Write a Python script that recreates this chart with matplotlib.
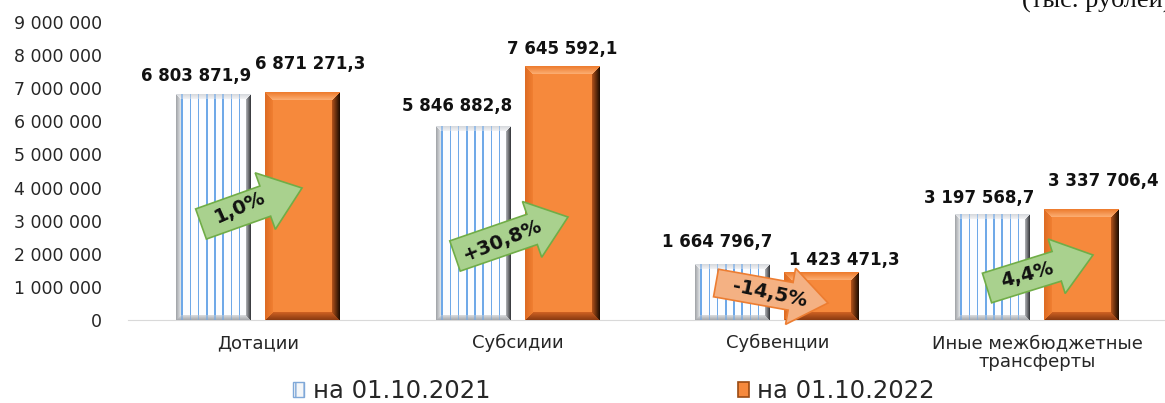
import matplotlib
matplotlib.use('Agg')
import matplotlib.pyplot as plt
import numpy as np
from matplotlib.patches import Polygon, Patch
from matplotlib.ticker import FuncFormatter, MultipleLocator

# ---------------- data ----------------
categories = ['Дотации', 'Субсидии', 'Субвенции', 'Иные межбюджетные\nтрансферты']
values_2021 = [6803871.9, 5846882.8, 1664796.7, 3197568.7]
values_2022 = [6871271.3, 7645592.1, 1423471.3, 3337706.4]
series_names = ['на 01.10.2021', 'на 01.10.2022']
change_labels = ['1,0%', '+30,8%', '-14,5%', '4,4%']
unit_label = '(тыс. рублей)'

# ---------------- layout / style ----------------
W, H = 1165, 403
fig = plt.figure(figsize=(W / 100, H / 100), dpi=100)
ax = fig.add_axes([128 / W, (H - 320) / H, 1039 / W, 298 / H])
ax.set_xlim(-0.5, 3.5)
ax.set_ylim(0, 9e6)

x = np.arange(len(categories))
bw = 75 / 259.75
off = 44.5 / 259.75
b1 = ax.bar(x - off, values_2021, bw, color='none', edgecolor='none')
b2 = ax.bar(x + off, values_2022, bw, color='none', edgecolor='none')


def bevel_image(w, h, face, edges, b, lines=None):
    yy, xx = np.mgrid[0:h, 0:w]
    d = np.stack([yy, xx, w - 1 - xx, h - 1 - yy]).astype(float)
    idx = d.argmin(0)
    m = d.min(0)
    img = np.ones((h, w, 3)) * np.array(face, float) / 255
    if lines is not None:
        col, spacing, lw = lines
        mask = ((xx - b) % spacing < lw) & ~(((idx == 1) | (idx == 2)) & (m < b))
        mask &= (xx > b - 1) & (xx < w - b)
        img[mask] = np.array(col, float) / 255
    for k in range(4):
        outer, inner = edges[k]
        sel = (idx == k) & (m < b)
        t = (m[sel] / b)[:, None]
        c = np.array(outer, float) / 255 * (1 - t) + np.array(inner, float) / 255 * t
        if lines is not None and k in (0, 3):
            keep = mask[sel]
            c[keep] = c[keep] * 0.4 + np.array(lines[0], float) / 255 * 0.6
        img[sel] = c
    return np.clip(img, 0, 1)


blue_edges = [((215, 218, 222), (245, 246, 248)),   # top
              ((165, 168, 172), (236, 238, 240)),   # left
              ((60, 62, 66), (190, 192, 196)),      # right
              ((170, 172, 176), (225, 227, 230))]   # bottom
orange_edges = [((238, 125, 48), (253, 178, 120)),
                ((222, 108, 36), (242, 128, 50)),
                ((35, 15, 2), (190, 88, 28)),
                ((140, 60, 18), (212, 100, 36))]

for bars, edges, face, lines, bev in [
        (b1, blue_edges, (252, 253, 255), ((110, 168, 232), 8.2, 1.6), 5),
        (b2, orange_edges, (246, 137, 60), None, 8)]:
    for p in bars:
        bb = p.get_bbox()
        (px0, py0), (px1, py1) = ax.transData.transform([[bb.x0, bb.y0], [bb.x1, bb.y1]])
        w = int(round(px1 - px0))
        h = int(round(py1 - py0))
        img = bevel_image(w, h, face, edges, bev, lines)
        ax.imshow(img, extent=(bb.x0, bb.x1, bb.y0, bb.y1), aspect='auto',
                  interpolation='nearest', zorder=2)

ax.set_xlim(-0.5, 3.5)
ax.set_ylim(0, 9e6)


def fmt_val(v):
    return f"{v:,.1f}".replace(',', ' ').replace('.', ',')


off_2021 = [(-17, 19), (-16, 20), (-16, 23), (-13, 16)]
off_2022 = [(8, 28), (0, 18), (22, 13), (22, 28)]
for i in range(len(categories)):
    ax.annotate(fmt_val(values_2021[i]), xy=(x[i] - off, values_2021[i]),
                xytext=off_2021[i], textcoords='offset pixels', ha='center', va='center',
                fontsize=12, fontweight='bold', color='#111111', zorder=4)
    ax.annotate(fmt_val(values_2022[i]), xy=(x[i] + off, values_2022[i]),
                xytext=off_2022[i], textcoords='offset pixels', ha='center', va='center',
                fontsize=12, fontweight='bold', color='#111111', zorder=4)

ax.yaxis.set_major_locator(MultipleLocator(1e6))
ax.yaxis.set_major_formatter(FuncFormatter(lambda v, p: f"{int(v):,}".replace(',', ' ')))
ax.tick_params(axis='y', length=0, pad=18.5, labelsize=12.5, labelcolor='#262626')
ax.set_xticks(x, categories)
ax.tick_params(axis='x', length=0, pad=10, labelsize=13, labelcolor='#262626')
for lab in ax.get_xticklabels():
    lab.set_linespacing(1.1)
for s in ['top', 'right', 'left']:
    ax.spines[s].set_visible(False)
ax.spines['bottom'].set_color('#d9d9d9')
ax.spines['bottom'].set_zorder(1)
ax.patch.set_alpha(0)

# ---------------- arrows overlay ----------------
ov = fig.add_axes([0, 0, 1, 1], zorder=5)
ov.set_xlim(0, W)
ov.set_ylim(H, 0)
ov.axis('off')
ov.patch.set_alpha(0)


def arrow_pts(x0, y0, x1, y1, sw, hw, hl):
    p0 = np.array([x0, y0], float)
    p1 = np.array([x1, y1], float)
    d = p1 - p0
    L = np.hypot(*d)
    u = d / L
    n = np.array([-u[1], u[0]])
    base = p0 + u * (L - hl)
    return [p0 + n * sw / 2, base + n * sw / 2, base + n * hw / 2, p1,
            base - n * hw / 2, base - n * sw / 2, p0 - n * sw / 2]


arrow_geom = [((201, 224), (302, 188), 32, 60, 39),
              ((455, 256), (568, 217), 32, 59, 38),
              ((716, 283), (828, 303), 28, 57, 38),
              ((987, 288), (1093, 255), 31, 57, 38)]
arrow_text = [((240, 207), 24), ((503, 240), 22), ((770, 294), -12), ((1027, 275), 15)]
for i, ((p0, p1, sw, hw, hl), (tp, rot)) in enumerate(zip(arrow_geom, arrow_text)):
    down = change_labels[i].startswith('-')
    fc = '#F4B183' if down else '#A9D18E'
    ec = '#ED7D31' if down else '#70AD47'
    ov.add_patch(Polygon(arrow_pts(*p0, *p1, sw, hw, hl), closed=True,
                         facecolor=fc, edgecolor=ec, linewidth=1.2))
    ov.text(tp[0], tp[1], change_labels[i], rotation=rot, rotation_mode='anchor',
            ha='center', va='center', fontsize=14, fontweight='bold', color='#111111')

# ---------------- legend ----------------
handles = [Patch(facecolor='#f4f6f8', edgecolor='#7fa8d8', hatch='||', linewidth=1),
           Patch(facecolor='#F6893C', edgecolor='#9a4a12', linewidth=1.2)]
fig.legend(handles, series_names, loc='center', bbox_to_anchor=(614 / W, 1 - 391 / H),
           ncol=2, frameon=False, fontsize=17.5, handlelength=0.45, handleheight=0.6,
           handletextpad=0.35, columnspacing=10.2, labelcolor='#262626',
           borderpad=0.1)

fig.text(1022 / W, 1 - 7 / H, unit_label, family='Liberation Serif', fontsize=19,
         ha='left', va='baseline', color='#111111')

fig.savefig('out.png', dpi=100)
